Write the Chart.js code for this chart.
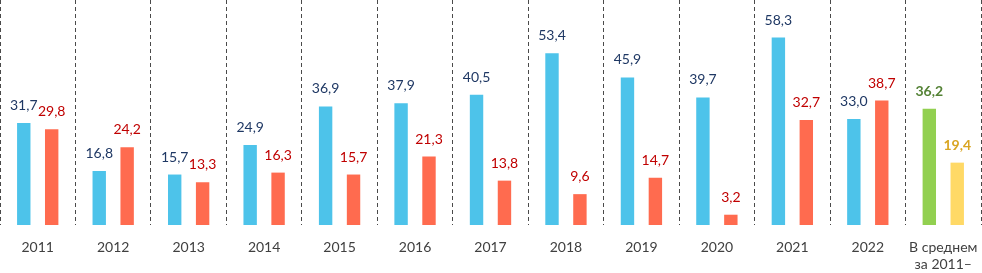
<!DOCTYPE html>
<html>
<head>
<meta charset="utf-8">
<script src="https://cdn.jsdelivr.net/npm/chart.js@4.4.0/dist/chart.umd.min.js"></script>
<style>
  html, body { margin: 0; padding: 0; background: #fff; }
  #wrap { width: 982px; height: 273px; }
</style>
</head>
<body>
<div id="wrap"><canvas id="chart"></canvas></div>
<script>
// Catégories et valeurs
const categories = ['2011', '2012', '2013', '2014', '2015', '2016', '2017', '2018', '2019', '2020', '2021', '2022', ['В среднем', 'за 2011–']];
const seriesBlue = [31.7, 16.8, 15.7, 24.9, 36.9, 37.9, 40.5, 53.4, 45.9, 39.7, 58.3, 33.0, 36.2];
const seriesRed = [29.8, 24.2, 13.3, 16.3, 15.7, 21.3, 13.8, 9.6, 14.7, 3.2, 32.7, 38.7, 19.4];

const lastIdx = categories.length - 1;
const blueColors = categories.map((c, i) => i === lastIdx ? '#92D050' : '#4DC3EA');
const redColors = categories.map((c, i) => i === lastIdx ? '#FFD966' : '#FF6B4F');
const blueLabelColors = categories.map((c, i) => i === lastIdx ? '#548235' : '#1F3864');
const redLabelColors = categories.map((c, i) => i === lastIdx ? '#D9A521' : '#C00000');

// Plugin simple pour écrire les valeurs au-dessus des barres
const valueLabels = {
    id: 'valueLabels',
    afterDatasetsDraw(chart) {
        const ctx = chart.ctx;
        ctx.save();
        ctx.textAlign = 'center';
        ctx.textBaseline = 'alphabetic';
        chart.data.datasets.forEach((ds, di) => {
            const meta = chart.getDatasetMeta(di);
            meta.data.forEach((bar, i) => {
                const bold = i === lastIdx;
                ctx.font = (bold ? 'bold ' : '') + '14px Lato, "Open Sans", sans-serif';
                ctx.fillStyle = ds.labelColors[i];
                const txt = ds.data[i].toFixed(1).replace('.', ',');
                ctx.fillText(txt, bar.x, bar.y - 13);
            });
        });
        ctx.restore();
    }
};

const ctx = document.getElementById('chart').getContext('2d');
new Chart(ctx, {
    type: 'bar',
    data: {
        labels: categories,
        datasets: [{
            data: seriesBlue,
            backgroundColor: blueColors,
            labelColors: blueLabelColors,
            categoryPercentage: 0.74,
            barPercentage: 0.48
        }, {
            data: seriesRed,
            backgroundColor: redColors,
            labelColors: redLabelColors,
            categoryPercentage: 0.74,
            barPercentage: 0.48
        }]
    },
    options: {
        responsive: true,
        maintainAspectRatio: false,
        animation: false,
        layout: { padding: { left: 0, right: 1, top: 0, bottom: 0 } },
        plugins: {
            legend: { display: false },
            tooltip: { enabled: false }
        },
        scales: {
            x: {
                afterFit: (scale) => {
                    scale.height = 48;
                    scale.paddingLeft = 0;
                    scale.paddingRight = 0;
                },
                grid: {
                    display: true,
                    offset: true,
                    color: '#4a4a4a',
                    lineWidth: 1,
                    drawTicks: false
                },
                border: { display: false, dash: [4, 3] },
                ticks: {
                    color: '#404040',
                    font: { family: 'Lato, "Open Sans", sans-serif', size: 14 },
                    padding: 14,
                    maxRotation: 0,
                    autoSkip: false
                }
            },
            y: {
                display: false,
                min: 0,
                max: 70
            }
        }
    },
    plugins: [valueLabels]
});
</script>
</body>
</html>
